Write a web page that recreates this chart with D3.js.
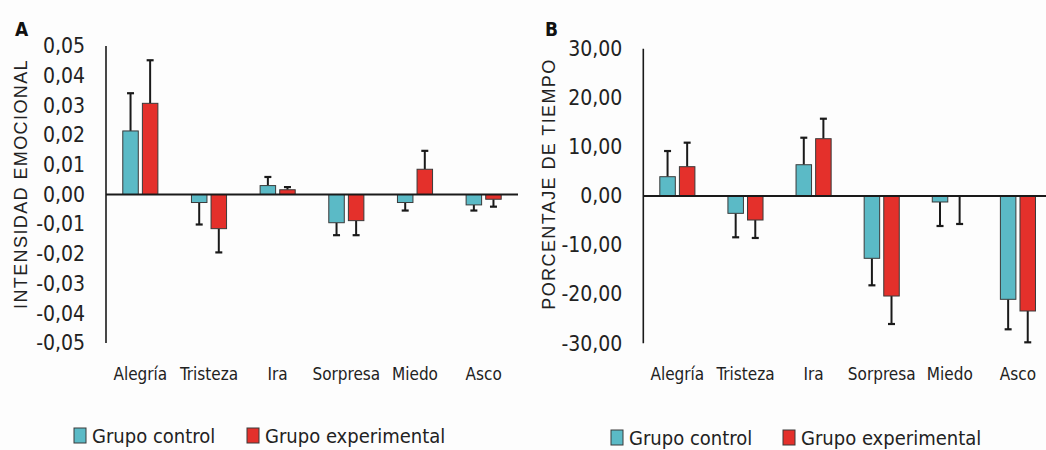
<!DOCTYPE html>
<html>
<head>
<meta charset="utf-8">
<script src="https://cdn.jsdelivr.net/npm/d3@7"></script>
<style>
  body { margin: 0; background: #fdfdfd; }
  svg { display: block; }
  .tick text, .cat, .leg { font-family: "Liberation Sans Narrow", "DejaVu Sans Condensed", "Roboto", sans-serif; fill: #222; }
  .ytitle { font-family: "Liberation Sans", Arial, sans-serif; fill: #222; letter-spacing: 1.4px; }
  .panel { font-family: "DejaVu Sans Condensed", "Liberation Sans", sans-serif; font-weight: bold; fill: #111; }
</style>
</head>
<body>
<svg id="chart" width="1046" height="450"></svg>
<script>
const categories = ['Alegría', 'Tristeza', 'Ira', 'Sorpresa', 'Miedo', 'Asco'];
const groups = ['Grupo control', 'Grupo experimental'];
const colors = ['#5bbac6', '#e4302b'];

// Panel A: intensidad emocional
const aControl = [0.0214, -0.0027, 0.0030, -0.0095, -0.0027, -0.0035];
const aControlErr = [0.0127, 0.0074, 0.0029, 0.0042, 0.0027, 0.0019];
const aExp = [0.0307, -0.0115, 0.0016, -0.0088, 0.0085, -0.0016];
const aExpErr = [0.0145, 0.0080, 0.0009, 0.0049, 0.0062, 0.0025];
const aTicks = [0.05, 0.04, 0.03, 0.02, 0.01, 0, -0.01, -0.02, -0.03, -0.04, -0.05];

// Panel B: porcentaje de tiempo
const bControl = [3.93, -3.53, 6.37, -12.69, -1.22, -21.04];
const bControlErr = [5.23, 4.88, 5.50, 5.50, 4.89, 6.11];
const bExp = [5.97, -4.89, 11.67, -20.37, -0.05, -23.42];
const bExpErr = [4.89, 3.66, 4.07, 5.70, 5.65, 6.38];
const bTicks = [30, 20, 10, 0, -10, -20, -30];

const svg = d3.select('#chart');
const fmtComma = (dec) => v => d3.format('.' + dec + 'f')(v).replace('.', ',').replace('−', '-');

function drawPanel(opts) {
  const g = svg.append('g');
  const x = d3.scaleBand().domain(categories).range([opts.x0, opts.x1]);
  const y = d3.scaleLinear().domain(opts.domain).range([opts.yTop, opts.yBottom]);

  // y axis ticks (labels only)
  const yAxis = d3.axisLeft(y).tickValues(opts.ticks).tickFormat(fmtComma(opts.dec)).tickSize(0).tickPadding(21);
  const ya = g.append('g').attr('transform', `translate(${opts.x0},0)`).call(yAxis);
  ya.select('.domain').remove();
  ya.selectAll('text').attr('font-size', 21);

  const series = [
    { vals: opts.control, errs: opts.controlErr, color: colors[0], off: -9.8 },
    { vals: opts.exp, errs: opts.expErr, color: colors[1], off: 9.8 }
  ];
  const bw = 15.5;

  series.forEach(s => {
    // error bars (one-sided, away from zero)
    categories.forEach((c, i) => {
      const cx = x(c) + x.bandwidth() / 2 + s.off;
      const v = s.vals[i];
      const end = v >= 0 ? v + s.errs[i] : v - s.errs[i];
      g.append('line')
        .attr('x1', cx).attr('x2', cx)
        .attr('y1', y(v)).attr('y2', y(end))
        .attr('stroke', '#1a1a1a').attr('stroke-width', 2);
      g.append('line')
        .attr('x1', cx - 3.5).attr('x2', cx + 3.5)
        .attr('y1', y(end)).attr('y2', y(end))
        .attr('stroke', '#1a1a1a').attr('stroke-width', 2.2);
    });
    g.selectAll(null)
      .data(s.vals)
      .enter().append('rect')
      .attr('x', (d, i) => x(categories[i]) + x.bandwidth() / 2 + s.off - bw / 2)
      .attr('y', d => y(Math.max(0, d)))
      .attr('width', bw)
      .attr('height', d => Math.abs(y(d) - y(0)))
      .attr('fill', s.color)
      .attr('stroke', '#3a3a3a')
      .attr('stroke-width', 1);
  });

  // axes lines
  g.append('line').attr('x1', opts.x0).attr('x2', opts.x0)
    .attr('y1', y(opts.domain[0])).attr('y2', y(opts.domain[1]))
    .attr('stroke', '#1a1a1a').attr('stroke-width', 1.6);
  g.append('line').attr('x1', opts.x0).attr('x2', opts.axisEnd)
    .attr('y1', y(0)).attr('y2', y(0))
    .attr('stroke', '#1a1a1a').attr('stroke-width', 2);

  // category labels
  g.selectAll('.cat')
    .data(categories)
    .enter().append('text')
    .attr('class', 'cat')
    .attr('x', d => x(d) + x.bandwidth() / 2)
    .attr('y', 380)
    .attr('text-anchor', 'middle')
    .attr('font-size', 17)
    .text(d => d);

  // y title
  g.append('text')
    .attr('class', 'ytitle')
    .attr('transform', `translate(${opts.titleX},184) rotate(-90)`)
    .attr('text-anchor', 'middle')
    .attr('font-size', 18)
    .text(opts.title);

  // panel letter
  g.append('text')
    .attr('class', 'panel')
    .attr('x', opts.letterX).attr('y', 36)
    .attr('font-size', 19)
    .text(opts.letter);

  // legend
  const leg = g.append('g');
  groups.forEach((name, i) => {
    const lx = opts.legX[i];
    leg.append('rect')
      .attr('x', lx).attr('y', opts.legY - 15)
      .attr('width', 12).attr('height', 15)
      .attr('fill', colors[i]).attr('stroke', '#3a3a3a').attr('stroke-width', 1);
    leg.append('text')
      .attr('class', 'leg')
      .attr('x', lx + 18).attr('y', opts.legY)
      .attr('font-size', 20)
      .text(name);
  });
}

drawPanel({
  x0: 106, x1: 518, axisEnd: 518,
  domain: [0.05, -0.05], yTop: 46, yBottom: 343,
  ticks: aTicks, dec: 2,
  control: aControl, controlErr: aControlErr, exp: aExp, expErr: aExpErr,
  title: 'INTENSIDAD EMOCIONAL', titleX: 27, letter: 'A', letterX: 15,
  legX: [74, 247], legY: 443
});

drawPanel({
  x0: 643.3, x1: 1052, axisEnd: 1046,
  domain: [30, -30], yTop: 48.7, yBottom: 343.3,
  ticks: bTicks, dec: 2,
  control: bControl, controlErr: bControlErr, exp: bExp, expErr: bExpErr,
  title: 'PORCENTAJE DE TIEMPO', titleX: 555, letter: 'B', letterX: 545,
  legX: [611, 783], legY: 445
});
</script>
</body>
</html>
